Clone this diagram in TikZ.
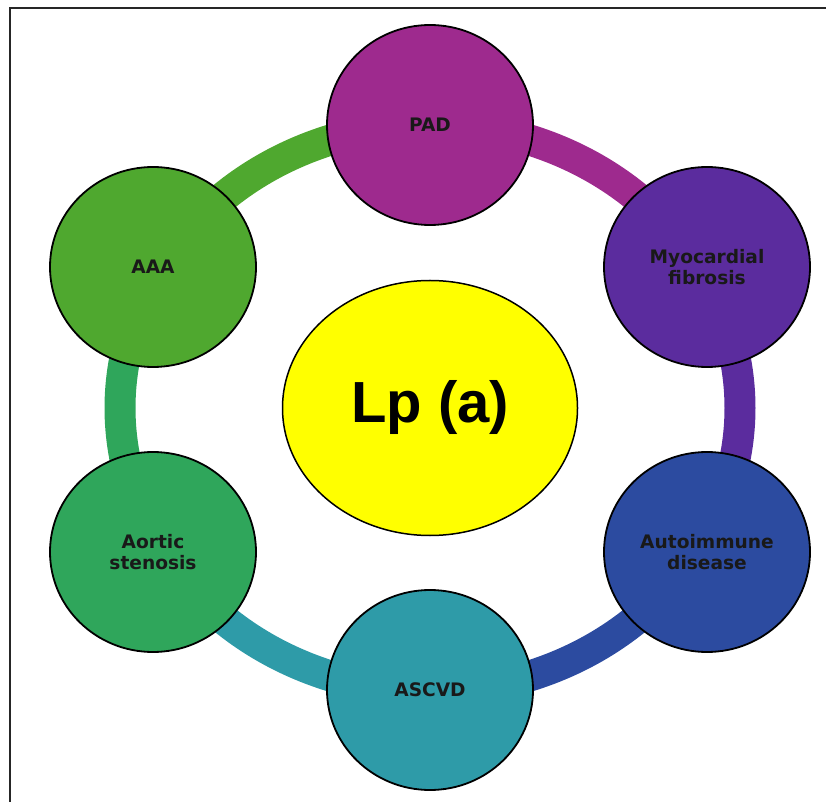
\documentclass[tikz,border=0pt]{standalone}
\usepackage{fontspec}
\setmainfont{Liberation Sans}
\newfontfamily\lblfont{DejaVu Sans}
\usetikzlibrary{shapes.geometric}
\definecolor{cPAD}{HTML}{9E2A8E}
\definecolor{cMYO}{HTML}{5B2C9E}
\definecolor{cAUTO}{HTML}{2C4BA0}
\definecolor{cASC}{HTML}{2E9BA8}
\definecolor{cAOR}{HTML}{2FA65B}
\definecolor{cAAA}{HTML}{4FA82F}
\definecolor{cLP}{rgb}{1,1,0}
\begin{document}
\begin{tikzpicture}[x=1pt,y=1pt,
  dis/.style={ellipse,draw=black,line width=1.8pt,minimum width=206pt,minimum height=200pt,
    inner sep=0pt,align=center,text=black!90,
    font=\lblfont\bfseries\fontsize{18.6}{21.5}\selectfont},
  ringseg/.style={line width=31pt},
  frameline/.style={line width=2pt,draw=black!85}]
\useasboundingbox (0,0) rectangle (826,801);
\draw[frameline] (10,-5) -- (10,793) -- (831,793);
\coordinate (c) at (430,393);
% ring segments
\draw[ringseg,cPAD] (c) ++({310*cos(95)},{283*sin(95)}) arc[start angle=95,end angle=25,x radius=310,y radius=283];
\draw[ringseg,cMYO] (c) ++({310*cos(35)},{283*sin(35)}) arc[start angle=35,end angle=-35,x radius=310,y radius=283];
\draw[ringseg,cAUTO] (c) ++({310*cos(-25)},{283*sin(-25)}) arc[start angle=-25,end angle=-95,x radius=310,y radius=283];
\draw[ringseg,cASC] (c) ++({310*cos(-85)},{283*sin(-85)}) arc[start angle=-85,end angle=-155,x radius=310,y radius=283];
\draw[ringseg,cAOR] (c) ++({310*cos(-145)},{283*sin(-145)}) arc[start angle=-145,end angle=-215,x radius=310,y radius=283];
\draw[ringseg,cAAA] (c) ++({310*cos(155)},{283*sin(155)}) arc[start angle=155,end angle=85,x radius=310,y radius=283];
% nodes
\node[dis,fill=cPAD] (pad) at (430,676) {PAD};
\node[dis,fill=cMYO] (myo) at (707,534) {Myocardial\\fibrosis};
\node[dis,fill=cAUTO] (auto) at (707,249) {Autoimmune\\disease};
\node[dis,fill=cASC] (ascvd) at (430,111) {ASCVD};
\node[dis,fill=cAOR] (aortic) at (153,249) {Aortic\\stenosis};
\node[dis,fill=cAAA] (aaa) at (153,534) {AAA};
\node[ellipse,draw=black,line width=1.5pt,fill=cLP,minimum width=295pt,minimum height=255pt,
  inner sep=0pt,font=\bfseries\fontsize{58}{60}\selectfont] (lp) at (430,393) {Lp (a)};
\end{tikzpicture}
\end{document}
